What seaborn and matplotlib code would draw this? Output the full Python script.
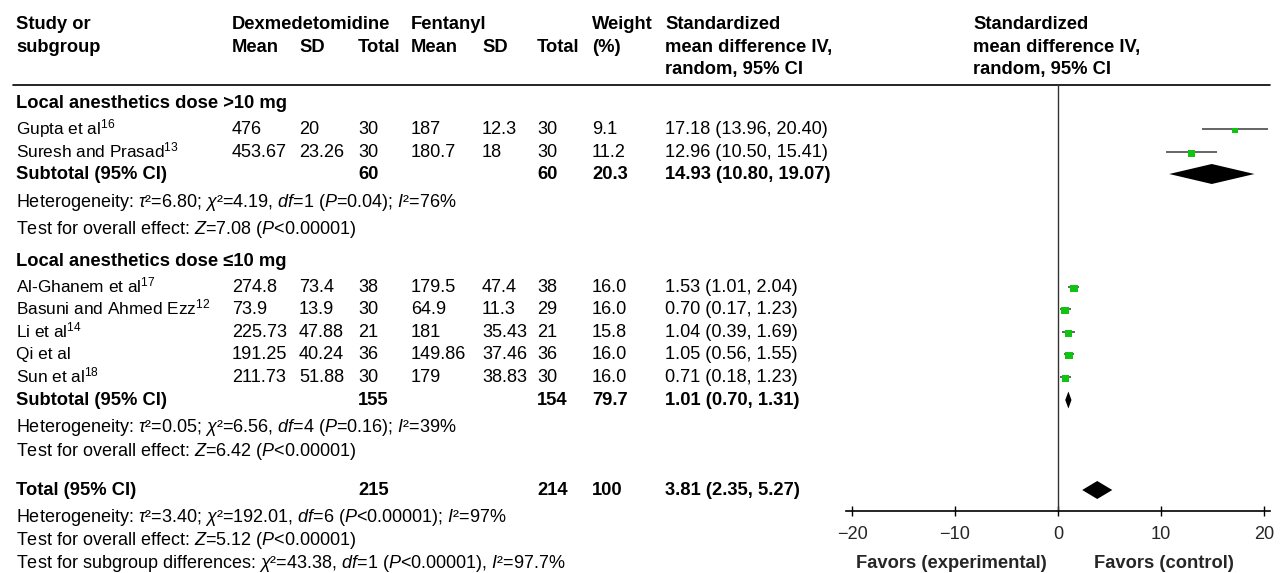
import numpy as np
import pandas as pd
import matplotlib
matplotlib.use("Agg")
import matplotlib.pyplot as plt
import seaborn as sns

# ---- data ----
studies = ["Gupta et al$^{16}$", "Suresh and Prasad$^{13}$",
           "Al-Ghanem et al$^{17}$", "Basuni and Ahmed Ezz$^{12}$",
           "Li et al$^{14}$", "Qi et al", "Sun et al$^{18}$"]
dex_mean = [476, 453.67, 274.8, 73.9, 225.73, 191.25, 211.73]
dex_sd = [20, 23.26, 73.4, 13.9, 47.88, 40.24, 51.88]
dex_n = [30, 30, 38, 30, 21, 36, 30]
fen_mean = [187, 180.7, 179.5, 64.9, 181, 149.86, 179]
fen_sd = [12.3, 18, 47.4, 11.3, 35.43, 37.46, 38.83]
fen_n = [30, 30, 38, 29, 21, 36, 30]
weights = [9.1, 11.2, 16.0, 16.0, 15.8, 16.0, 16.0]
smd = [17.18, 12.96, 1.53, 0.70, 1.04, 1.05, 0.71]
smd_lo = [13.96, 10.50, 1.01, 0.17, 0.39, 0.56, 0.18]
smd_hi = [20.40, 15.41, 2.04, 1.23, 1.69, 1.55, 1.23]

subgroups = ["Local anesthetics dose >10 mg", "Local anesthetics dose \u226410 mg"]
sub_n_dex = [60, 155]
sub_n_fen = [60, 154]
sub_weight = [20.3, 79.7]
sub_smd = [14.93, 1.01]
sub_lo = [10.80, 0.70]
sub_hi = [19.07, 1.31]
sub_het = [r"Heterogeneity: $\tau$²=6.80; $\chi$²=4.19, $df$=1 ($P$=0.04); $I$²=76%",
           r"Heterogeneity: $\tau$²=0.05; $\chi$²=6.56, $df$=4 ($P$=0.16); $I$²=39%"]
sub_test = [r"Test for overall effect: $Z$=7.08 ($P$<0.00001)",
            r"Test for overall effect: $Z$=6.42 ($P$<0.00001)"]

total_n_dex, total_n_fen, total_weight = 215, 214, 100
total_smd, total_lo, total_hi = 3.81, 2.35, 5.27
total_notes = [r"Heterogeneity: $\tau$²=3.40; $\chi$²=192.01, $df$=6 ($P$<0.00001); $I$²=97%",
               r"Test for overall effect: $Z$=5.12 ($P$<0.00001)",
               r"Test for subgroup differences: $\chi$²=43.38, $df$=1 ($P$<0.00001), $I$²=97.7%"]

axis_ticks = [-20, -10, 0, 10, 20]
favors = ["Favors (experimental)", "Favors (control)"]

# ---- layout (pixel rows, y from top) ----
W, H = 1281, 573
FS_BOLD = 13.2      # headers / bold rows
FS_NAME = 12.4      # study names
FS_NUM = 13.1       # numeric columns
FS_NOTE = 13.0      # heterogeneity / test lines
study_y = [129, 152, 287, 309, 332, 354, 377]
sub_head_y = [108, 266]
sub_y = [174, 400]
sub_het_y = [207, 432]
sub_test_y = [234, 456]
total_y = 490
total_notes_y = [522, 545, 568]
col = dict(m1=232, s1=299, n1=358, m2=411, s2=482, n2=537, w=592, ci=665)

sns.set_theme(style="white")
plt.rcParams["font.family"] = ["Liberation Sans", "DejaVu Sans"]
plt.rcParams["mathtext.fontset"] = "custom"
plt.rcParams["mathtext.rm"] = "Liberation Sans"
plt.rcParams["mathtext.it"] = "Liberation Sans:italic"
plt.rcParams["mathtext.bf"] = "Liberation Sans:bold"

fig = plt.figure(figsize=(W / 100, H / 100), dpi=100)
tax = fig.add_axes([0, 0, 1, 1])
tax.set_xlim(0, W)
tax.set_ylim(H, 0)
tax.axis("off")


def put(x, y, s, size, bold=False):
    tax.text(x, y, s, fontsize=size, fontweight="bold" if bold else "normal",
             ha="left", va="baseline", color="black")


# header
put(16, 29, "Study or", FS_BOLD, True)
put(16, 52, "subgroup", FS_BOLD, True)
put(col["m1"], 29, "Dexmedetomidine", FS_BOLD, True)
put(col["m2"], 29, "Fentanyl", FS_BOLD, True)
put(col["w"], 29, "Weight", FS_BOLD, True)
for key, lab in [("m1", "Mean"), ("s1", "SD"), ("n1", "Total"),
                 ("m2", "Mean"), ("s2", "SD"), ("n2", "Total"), ("w", "(%)")]:
    put(col[key], 52, lab, FS_BOLD, True)
for hx in [col["ci"], 973]:
    put(hx, 29, "Standardized", FS_BOLD, True)
    put(hx, 52, "mean difference IV,", FS_BOLD, True)
    put(hx, 74, "random, 95% CI", FS_BOLD, True)
tax.plot([13, 1270], [85, 85], color="black", lw=1.2)

# study rows
for i, name in enumerate(studies):
    b = study_y[i] + 5
    put(16, b, name, FS_NAME)
    put(col["m1"], b, f"{dex_mean[i]:g}", FS_NUM)
    put(col["s1"], b, f"{dex_sd[i]:g}", FS_NUM)
    put(col["n1"], b, f"{dex_n[i]}", FS_NUM)
    put(col["m2"], b, f"{fen_mean[i]:g}", FS_NUM)
    put(col["s2"], b, f"{fen_sd[i]:g}", FS_NUM)
    put(col["n2"], b, f"{fen_n[i]}", FS_NUM)
    put(col["w"], b, f"{weights[i]:.1f}", FS_NUM)
    put(col["ci"], b, f"{smd[i]:.2f} ({smd_lo[i]:.2f}, {smd_hi[i]:.2f})", FS_NUM)

for g in range(2):
    put(16, sub_head_y[g], subgroups[g], FS_BOLD, True)
    b = sub_y[g] + 5
    put(16, b, "Subtotal (95% CI)", FS_BOLD, True)
    put(col["n1"], b, f"{sub_n_dex[g]}", FS_BOLD, True)
    put(col["n2"], b, f"{sub_n_fen[g]}", FS_BOLD, True)
    put(col["w"], b, f"{sub_weight[g]:.1f}", FS_BOLD, True)
    put(col["ci"], b, f"{sub_smd[g]:.2f} ({sub_lo[g]:.2f}, {sub_hi[g]:.2f})", FS_BOLD, True)
    put(16, sub_het_y[g], sub_het[g], FS_NOTE)
    put(16, sub_test_y[g], sub_test[g], FS_NOTE)

b = total_y + 5
put(16, b, "Total (95% CI)", FS_BOLD, True)
put(col["n1"], b, f"{total_n_dex}", FS_BOLD, True)
put(col["n2"], b, f"{total_n_fen}", FS_BOLD, True)
put(col["w"], b, f"{total_weight}", FS_BOLD, True)
put(col["ci"], b, f"{total_smd:.2f} ({total_lo:.2f}, {total_hi:.2f})", FS_BOLD, True)
for t, ty in zip(total_notes, total_notes_y):
    put(16, ty, t, FS_NOTE)

# ---- forest panel ----
PX = 10.3          # pixels per unit
X0 = 1058          # pixel of zero
XL = 20.6
top, bottom = 85, 511
fax = fig.add_axes([(X0 - XL * PX) / W, (H - bottom) / H,
                    2 * XL * PX / W, (bottom - top) / H])
fax.patch.set_alpha(0)

fax.axvline(0, color="#333333", lw=1.0, zorder=1)
fax.hlines(study_y, smd_lo, smd_hi, color="#3a3a3a", lw=1.1, zorder=2)

df = pd.DataFrame({"smd": smd, "y": np.array(study_y) + 1.5, "w": weights})
sns.scatterplot(data=df, x="smd", y="y", size="w", sizes=(15, 30),
                size_norm=(9.1, 16.0), marker="s", color="#12c412",
                linewidth=0, legend=False, ax=fax, zorder=3)

diamonds = list(zip(sub_smd + [total_smd], sub_lo + [total_lo],
                    sub_hi + [total_hi], sub_y + [total_y], [10, 8.5, 9]))
for est, lo, hi, yc, hh in diamonds:
    fax.fill([lo, est, hi, est], [yc, yc - hh, yc, yc + hh],
             color="black", lw=0, zorder=3)

fax.set_xlim(-XL, XL)
fax.set_ylim(bottom, top)
fax.set_xlabel("")
fax.set_ylabel("")
fax.set_yticks([])
fax.set_xticks(axis_ticks)
fax.set_xticklabels(["\u2212" + str(-t) if t < 0 else str(t) for t in axis_ticks])
for s in ["top", "left", "right"]:
    fax.spines[s].set_visible(False)
fax.spines["bottom"].set_color("black")
fax.spines["bottom"].set_linewidth(1.2)
fax.tick_params(axis="x", direction="inout", length=7.5, width=1.0,
                color="black", labelsize=FS_NUM, pad=7, bottom=True)

tax.text(951, 568, favors[0], fontsize=FS_BOLD, fontweight="bold", ha="center", va="baseline")
tax.text(1164, 568, favors[1], fontsize=FS_BOLD, fontweight="bold", ha="center", va="baseline")

fig.savefig("out.png", dpi=100)
